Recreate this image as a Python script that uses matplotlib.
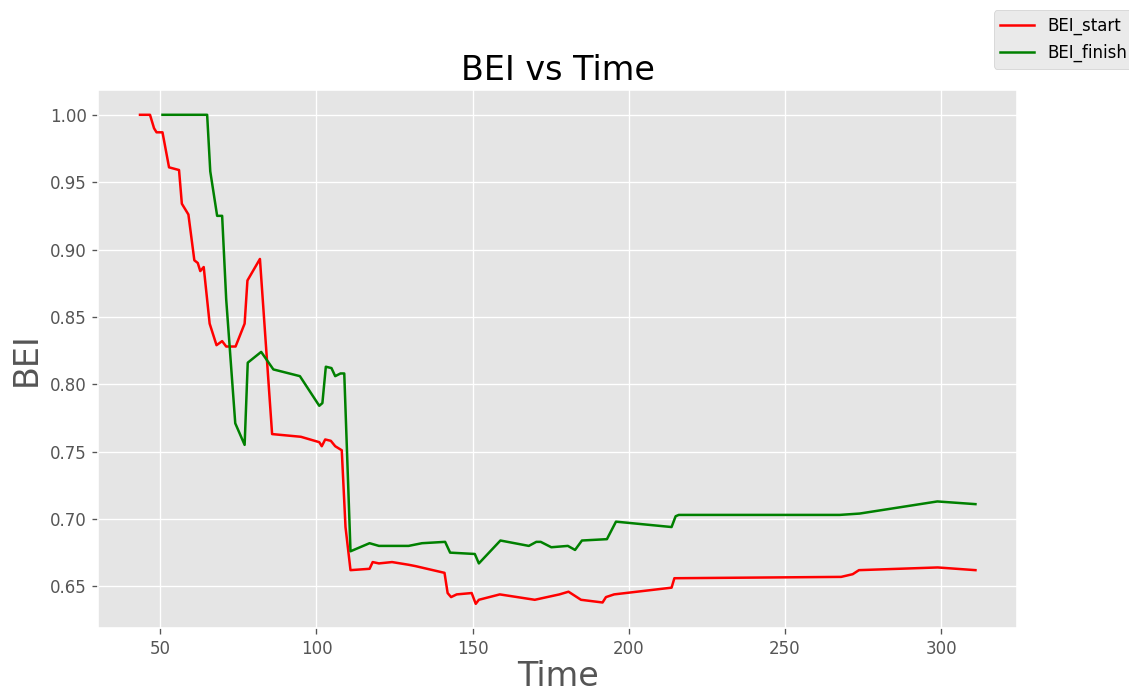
import numpy as np
import matplotlib.pyplot as plt

plt.style.use('ggplot')

# BEI_start series
t_start = [43.5, 46.7, 48, 48.8, 50.7, 52.8, 56, 56.9, 59, 60.9, 62, 62.8, 63.9,
           65.8, 68, 69.8, 71.1, 74.1, 77, 77.9, 81.9, 85.8, 95, 100.9, 101.7,
           102.8, 104.6, 106, 108.1, 109.3, 110.9, 117, 118, 120, 124.2, 129.5,
           131.7, 141, 142, 143.1, 144.9, 149.7, 151, 152, 158.7, 169.9, 177.8,
           180.7, 184.7, 191.6, 192.7, 195.3, 213.7, 214.6, 268, 271.7, 273.7,
           298.9, 311]
bei_start = [1.0, 1.0, 0.990, 0.987, 0.987, 0.961, 0.959, 0.934, 0.926, 0.892,
             0.890, 0.884, 0.887, 0.845, 0.829, 0.832, 0.828, 0.828, 0.845,
             0.877, 0.893, 0.763, 0.761, 0.757, 0.754, 0.759, 0.758, 0.754,
             0.751, 0.694, 0.662, 0.663, 0.668, 0.667, 0.668, 0.666, 0.665,
             0.660, 0.645, 0.642, 0.644, 0.645, 0.637, 0.640, 0.644, 0.640,
             0.644, 0.646, 0.640, 0.638, 0.642, 0.644, 0.649, 0.656, 0.657,
             0.659, 0.662, 0.664, 0.662]

# BEI_finish series
t_finish = [50.7, 65, 66, 68.2, 69.8, 71.1, 74, 77, 78, 82.3, 86.2, 94.7, 100.9,
            101.9, 103, 104.8, 106, 107.7, 108.9, 110.9, 117, 120, 129.5, 133.8,
            141.2, 142.8, 150.7, 152, 158.9, 168, 170.4, 171.8, 175.2, 180.5,
            182.8, 185, 193, 195.9, 213.7, 215, 216, 267.5, 273.9, 298.8, 311]
bei_finish = [1.0, 1.0, 0.958, 0.925, 0.925, 0.863, 0.771, 0.755, 0.816, 0.824,
              0.811, 0.806, 0.784, 0.786, 0.813, 0.812, 0.806, 0.808, 0.808,
              0.676, 0.682, 0.680, 0.680, 0.682, 0.683, 0.675, 0.674, 0.667,
              0.684, 0.680, 0.683, 0.683, 0.679, 0.680, 0.677, 0.684, 0.685,
              0.698, 0.694, 0.702, 0.703, 0.703, 0.704, 0.713, 0.711]

fig, ax = plt.subplots(1, 1, figsize=(1129 / 120, 695 / 120), dpi=120)
fig.subplots_adjust(left=0.087, right=0.901, top=0.870, bottom=0.096)

ax.plot(t_start, bei_start, color='red', label='BEI_start')
ax.plot(t_finish, bei_finish, color='green', label='BEI_finish')

ax.set_title('BEI vs Time', fontsize=20)
ax.set_xlabel('Time', fontsize=20, labelpad=1)
ax.set_ylabel('BEI', fontsize=20)
ax.tick_params(labelsize=10)
ax.set_xticks([50, 100, 150, 200, 250, 300])
ax.set_yticks(np.arange(0.65, 1.001, 0.05))
ax.yaxis.set_major_formatter(plt.FormatStrFormatter('%.2f'))

fig.legend(loc='upper right', fontsize=10, bbox_to_anchor=(1.0115, 0.997))
plt.savefig('out.png')
